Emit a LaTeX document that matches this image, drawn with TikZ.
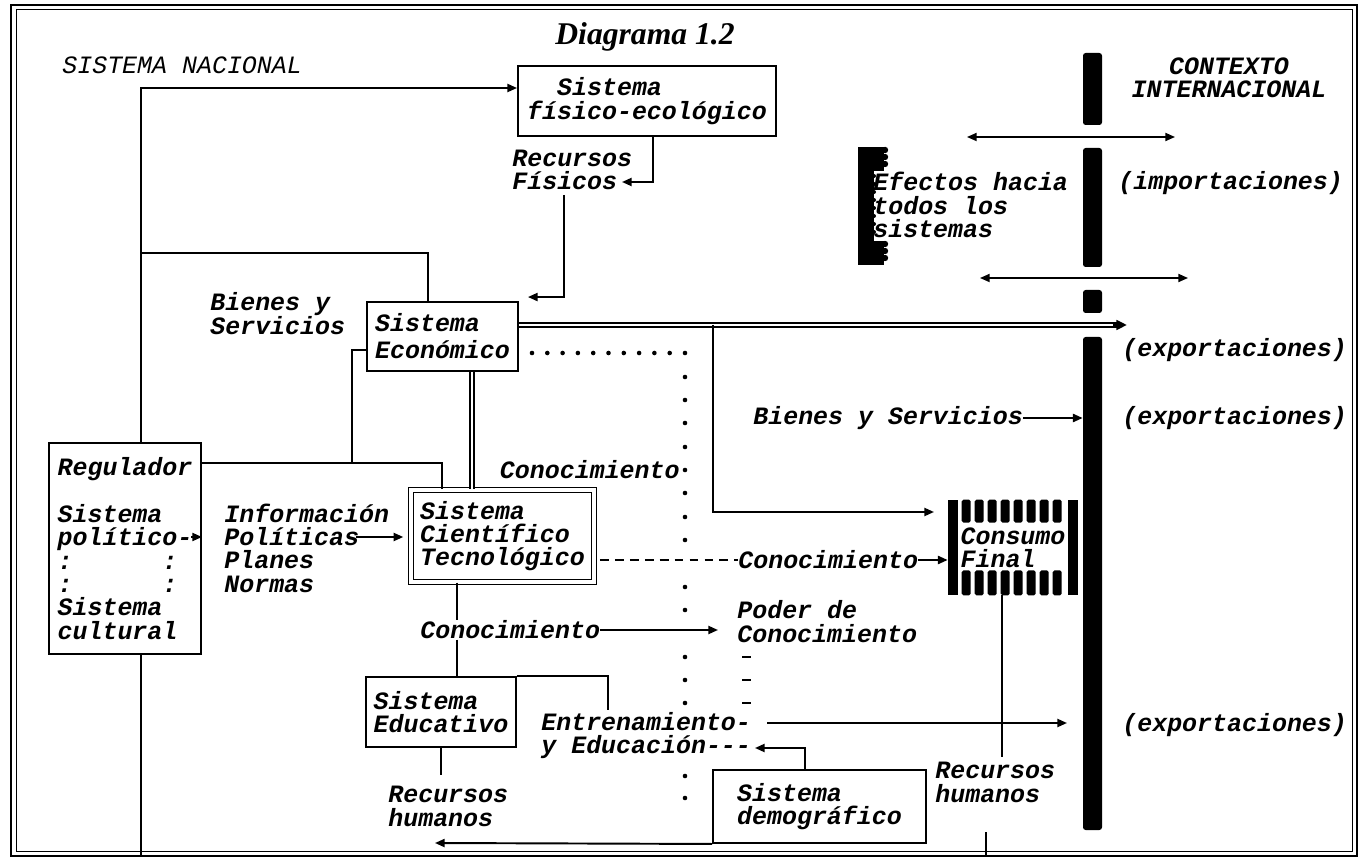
\documentclass[tikz,border=0pt]{standalone}
\usepackage{fontspec}
\setmonofont{Liberation Mono}
\newfontfamily\titlefont{Liberation Serif}
\usetikzlibrary{arrows.meta,calc}

\newcommand{\pxu}{0.02cm}
\newcommand{\diagfont}{\fontsize{14.2pt}{13.3pt}\selectfont\ttfamily\bfseries\itshape}

\tikzset{
    lbl/.style={inner sep=0pt, align=left, font=\diagfont},
    sysbox/.style={draw, line width=1.1pt, inner sep=0pt, align=left, font=\diagfont},
    link/.style={line width=1.1pt},
    arr/.style={line width=1.1pt, -{Triangle[length=5.5pt,width=4.6pt]}},
    twoway/.style={line width=0.9pt, {Triangle[length=5.5pt,width=4.6pt]}-{Triangle[length=5.5pt,width=4.6pt]}},
    dbl/.style={double, double distance=1.4pt, line width=0.8pt},
    bar/.style={fill=black, inner sep=0pt, minimum width=19*\pxu, rounded corners=1.5pt},
}

\begin{document}
\begin{tikzpicture}[x=\pxu, y=-\pxu]
    \useasboundingbox
        (0,0) rectangle (1360,861);
    \draw[line width=1.3pt]
        (11,5) rectangle (1357,856);
    \draw[line width=0.5pt]
        (16,9.5) rectangle (1352,851.5);

    \node[font=\titlefont\bfseries\itshape\fontsize{18pt}{20pt}\selectfont] (title)
        at (645,37) {Diagrama 1.2};
    \node[lbl, font=\diagfont\mdseries, anchor=west] (nac)
        at (62,65) {SISTEMA NACIONAL};
    \node[lbl, align=center] (ctx)
        at (1229,78) {CONTEXTO\\INTERNACIONAL};

    \node[sysbox, minimum width=258*\pxu, minimum height=70*\pxu] (fis)
        at (647,101) {\hspace*{1.2em}Sistema\\físico-ecológico};
    \node[sysbox, minimum width=151*\pxu, minimum height=69*\pxu] (eco)
        at (442.5,336.5) {Sistema\\[2pt]Económico};
    \node[sysbox, minimum width=152*\pxu, minimum height=211*\pxu] (reg)
        at (125,548.5) {Regulador\\[13.3pt]Sistema\\político-\\:\hspace*{3.6em}:\\:\hspace*{3.6em}:\\Sistema\\cultural};
    \node[sysbox, double, double distance=2pt, line width=0.8pt, minimum width=183*\pxu, minimum height=92*\pxu] (cien)
        at (502.5,536) {Sistema\\Científico\\Tecnológico};
    \node[sysbox, minimum width=150*\pxu, minimum height=70*\pxu] (edu)
        at (441,712) {Sistema\\Educativo};
    \node[sysbox, minimum width=213*\pxu, minimum height=73*\pxu] (dem)
        at (819.5,806.5) {Sistema\\demográfico};
    \node[lbl, minimum width=130*\pxu, minimum height=95*\pxu] (cons)
        at (1013,547.5) {Consumo\\Final};

    \node[lbl, anchor=west] (recf)
        at (512,170) {Recursos\\Físicos};
    \node[lbl, anchor=west] (bys1)
        at (210,313.5) {Bienes y\\Servicios};
    \node[lbl, anchor=west] (info)
        at (224,548) {Información\\Políticas\\Planes\\Normas};
    \node[lbl, anchor=east] (con1)
        at (680,470) {Conocimiento};
    \node[lbl, anchor=west] (con2)
        at (738,560) {Conocimiento};
    \node[lbl, anchor=west] (con3)
        at (420,630) {Conocimiento};
    \node[lbl, anchor=west] (pdc)
        at (737,621.5) {Poder de\\Conocimiento};
    \node[lbl, anchor=west] (bys2)
        at (753,418) {Bienes y Servicios};
    \node[lbl, anchor=west] (ent)
        at (541,735.5) {Entrenamiento-\\y Educación-{}-{}-};
    \node[lbl, anchor=west] (rhe)
        at (388,806.5) {Recursos\\humanos};
    \node[lbl, anchor=west] (rhd)
        at (935,782.5) {Recursos\\humanos};
    \node[lbl, anchor=west] (efe)
        at (873,205) {Efectos hacia\\todos los\\sistemas};
    \node[lbl, anchor=west] (imp)
        at (1118,183) {(importaciones)};
    \node[lbl, anchor=west] (exa)
        at (1122,350) {(exportaciones)};
    \node[lbl, anchor=west] (exb)
        at (1122,418) {(exportaciones)};
    \node[lbl, anchor=west] (exc)
        at (1122,725) {(exportaciones)};

    \node[bar, minimum height=72*\pxu] (bara)
        at (1092.5,89) {};
    \node[bar, minimum height=119*\pxu] (barb)
        at (1092.5,207.5) {};
    \node[bar, minimum height=23*\pxu] (barc)
        at (1092.5,301.5) {};
    \node[bar, minimum height=493*\pxu] (bard)
        at (1092.5,583.5) {};

    \coordinate (trunk) at (141,253);
    \coordinate (brc) at (428,253);
    \coordinate (frb) at (0,855);
    \coordinate (fisin) at ($(fis.west)+(0,-13)$);
    \coordinate (fd) at ($(fis.south)+(6,0)$);
    \coordinate (ftip) at (622,182);
    \coordinate (fu) at (564,195);
    \coordinate (etip) at ($(eco.north east)+(9,-4)$);
    \coordinate (rl) at (442,463);
    \coordinate (ej) at (352,350);
    \coordinate (pe) at (191,537);
    \coordinate (ie) at (356,537);
    \coordinate (dv) at (472,0);
    \coordinate (xe) at (1127,325);
    \coordinate (cb) at (713,325);
    \coordinate (ctip) at (934,512);
    \coordinate (cv) at (457,0);
    \coordinate (ptip) at (718,630);
    \coordinate (et) at (608,710);
    \coordinate (eb) at (441,775);
    \coordinate (ea) at (767,723);
    \coordinate (ez) at (1067,723);
    \coordinate (de) at (805,748);
    \coordinate (dtip) at (755,748);
    \coordinate (hx) at (435,843);
    \coordinate (rv) at (1002,757);
    \coordinate (tk) at (986,832);
    \coordinate (iml) at (967,137);
    \coordinate (imr) at (1175,137);
    \coordinate (exl) at (980,278);
    \coordinate (exr) at (1188,278);

    \draw[arr]
        (reg.north -| trunk) -- (trunk |- fisin) -- (fisin);
    \draw[link]
        (trunk) -- (brc) -- (brc |- eco.north);
    \draw[link]
        (reg.south -| trunk) -- (trunk |- frb);
    \draw[arr]
        (fd) |- (ftip);
    \draw[arr]
        (fu) |- (etip);
    \draw[link]
        (rl -| reg.east) -- (rl) -- (rl |- cien.north);
    \draw[link]
        (ej -| eco.west) -- (ej) -- (ej |- rl);
    \draw[arr]
        (pe) -- (pe -| reg.east);
    \draw[arr, shorten >=4pt]
        (ie) -- (ie -| cien.west);
    \draw[dbl]
        (eco.south -| dv) -- (cien.north -| dv);
    \draw[dbl, shorten >=5pt]
        (xe -| eco.east) -- (xe);
    \draw[line width=1.6pt, -{Triangle[length=6pt,width=5.4pt]}]
        ($(xe)+(-14,0)$) -- (xe);
    \draw[arr]
        (cb) |- (ctip);
    \draw[line width=1.1pt, dash pattern=on 5pt off 3.5pt, shorten <=3pt]
        (con2.west -| cien.east) -- (con2.west);
    \draw[arr]
        (con2.east) -- (con2.east -| cons.west);
    \draw[arr]
        (bys2.east) -- (bys2.east -| bard.west);
    \draw[link]
        (cien.south -| cv) -- (con3.north -| cv);
    \draw[link]
        (con3.south -| cv) -- (edu.north -| cv);
    \draw[arr]
        (con3.east) -- (ptip);
    \draw[link]
        (edu.north east) -| (et);
    \draw[link]
        (edu.south) -- (eb);
    \draw[arr]
        (ea) -- (ez);
    \draw[arr]
        (de |- dem.north) -- (de) -- (dtip);
    \draw[arr]
        (dem.south west) -- (hx);
    \draw[link]
        (cons.south -| rv) -- (rv);
    \draw[link]
        (tk) -- (tk |- frb);
    \draw[twoway]
        (iml) -- (imr);
    \draw[twoway]
        (exl) -- (exr);

    \foreach \k in {0,...,10}
        \fill (532+15.3*\k,353) circle[radius=2.3];
    \foreach \y in {377,400,423,447,470,493,517,540,587,610,657,680,703,776,798}
        \fill (685,\y) circle[radius=2.3];
    \foreach \y in {657,680,703}
        \draw[line width=1.5pt] (742,\y) -- (751,\y);

    \fill
        (858,147) rectangle (874,265);
    \fill
        (874,147) rectangle (884,171);
    \fill
        (874,241) rectangle (884,265);
    \foreach \y in {150,157,164,244,251,258}
        \fill (885,\y) circle[radius=3.2];
    \foreach \y in {176,184,...,236}
        \fill (874,\y) circle[radius=2];

    \fill
        (cons.north west) rectangle ($(cons.south west)+(10,0)$);
    \fill
        (cons.north east) rectangle ($(cons.south east)+(-10,0)$);
    \foreach \i in {0,...,7} {
        \fill[rounded corners=1pt] ($(cons.north west)+(14+13*\i,0)$) rectangle ++(9,23);
        \fill[rounded corners=1pt] ($(cons.south west)+(14+13*\i,0)$) rectangle ++(9,-25);
    }
\end{tikzpicture}
\end{document}
